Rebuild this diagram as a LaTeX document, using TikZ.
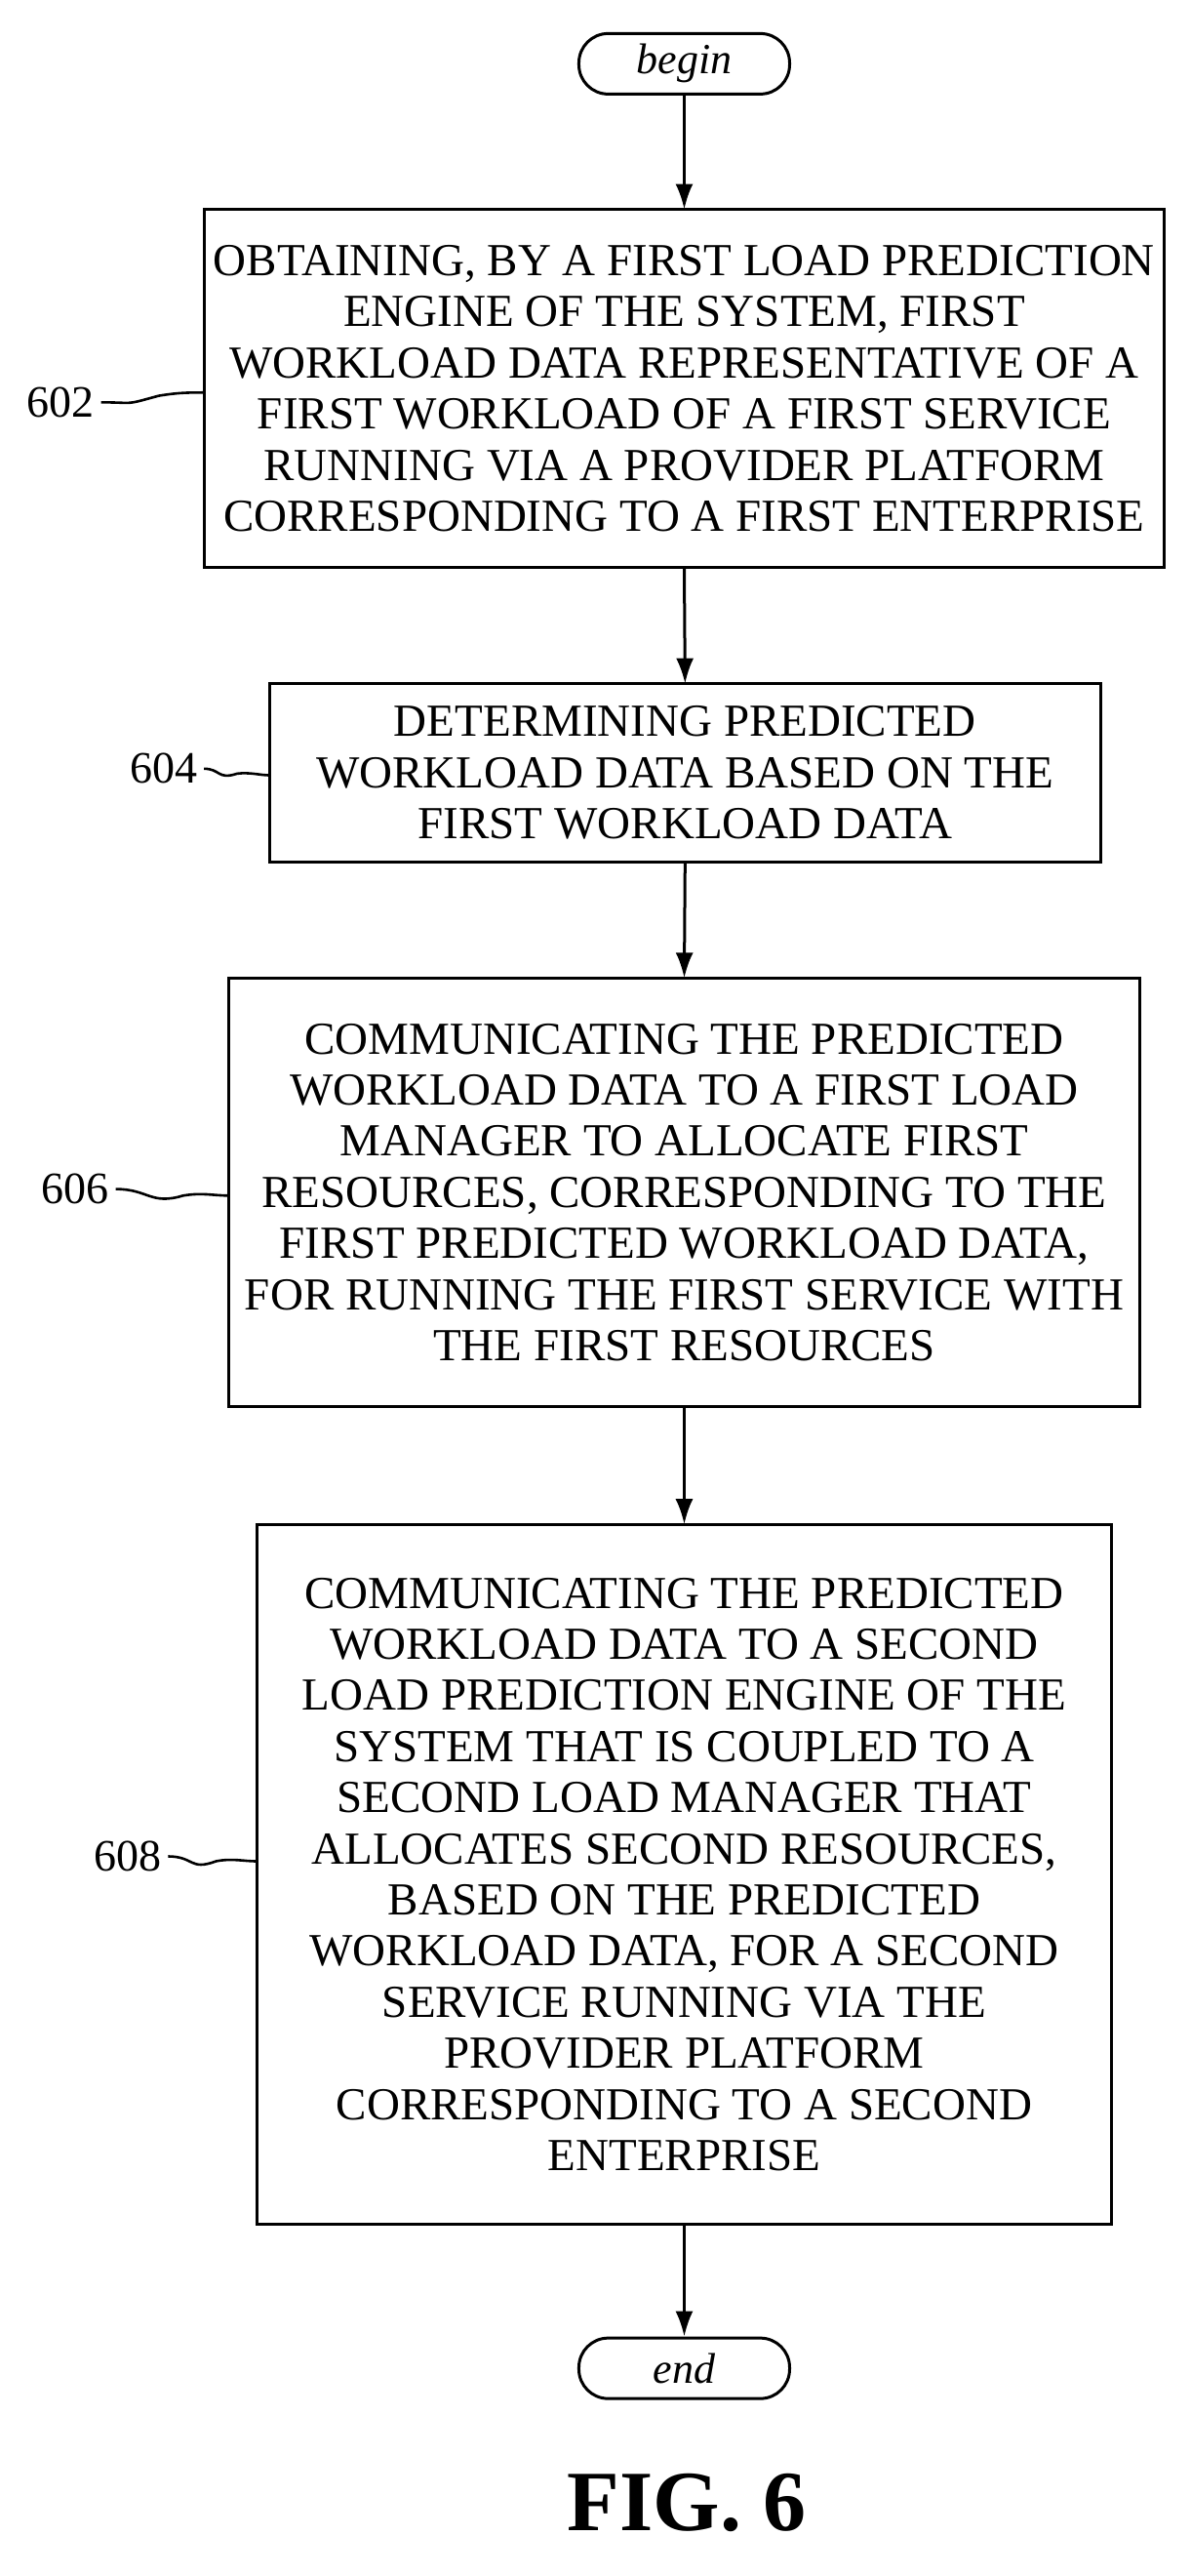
\documentclass[tikz,border=0pt]{standalone}
\usepackage{fontspec}
\setmainfont{Liberation Serif}
\usetikzlibrary{arrows.meta}
\begin{document}
\begin{tikzpicture}[x=0.838pt,y=-0.838pt,
  box/.style={draw,line width=1.5pt,align=center,font=\fontsize{23.5}{26.2}\selectfont,inner sep=0},
  term/.style={draw,line width=1.5pt,rounded corners=15pt,minimum width=108pt,minimum height=31pt,font=\fontsize{22}{24}\selectfont\itshape},
  arr/.style={line width=1.5pt,-{Latex[length=13pt,width=9pt]}},
  lab/.style={font=\fontsize{23}{24}\selectfont},
  sq/.style={line width=1.3pt}]
\useasboundingbox (0,0) rectangle (728,1575);
\node[term] (b) at (418.5,39) {begin};
\draw[box] (125,128) rectangle (712,347);
\node[box,draw=none] (n1) at (418.5,237.5) {OBTAINING, BY A FIRST LOAD PREDICTION\\ENGINE OF THE SYSTEM, FIRST\\WORKLOAD DATA REPRESENTATIVE OF A\\FIRST WORKLOAD OF A FIRST SERVICE\\RUNNING VIA A PROVIDER PLATFORM\\CORRESPONDING TO A FIRST ENTERPRISE};
\coordinate (t1) at (418.5,128); \coordinate (b1) at (418.5,347); \coordinate (l1) at (125,240);
\draw[box] (165,418) rectangle (673,527);
\node[box,draw=none] (n2) at (419,472.5) {DETERMINING PREDICTED\\WORKLOAD DATA BASED ON THE\\FIRST WORKLOAD DATA};
\coordinate (t2) at (419,418); \coordinate (b2) at (419,527); \coordinate (l2) at (165,474);
\draw[box] (140,598) rectangle (697,860);
\node[box,draw=none] (n3) at (418.5,729) {COMMUNICATING THE PREDICTED\\WORKLOAD DATA TO A FIRST LOAD\\MANAGER TO ALLOCATE FIRST\\RESOURCES, CORRESPONDING TO THE\\FIRST PREDICTED WORKLOAD DATA,\\FOR RUNNING THE FIRST SERVICE WITH\\THE FIRST RESOURCES};
\coordinate (t3) at (418.5,598); \coordinate (b3) at (418.5,860); \coordinate (l3) at (140,731);
\draw[box] (157,932) rectangle (680,1360);
\node[box,draw=none] (n4) at (418.5,1146) {COMMUNICATING THE PREDICTED\\WORKLOAD DATA TO A SECOND\\LOAD PREDICTION ENGINE OF THE\\SYSTEM THAT IS COUPLED TO A\\SECOND LOAD MANAGER THAT\\ALLOCATES SECOND RESOURCES,\\BASED ON THE PREDICTED\\WORKLOAD DATA, FOR A SECOND\\SERVICE RUNNING VIA THE\\PROVIDER PLATFORM\\CORRESPONDING TO A SECOND\\ENTERPRISE};
\coordinate (t4) at (418.5,932); \coordinate (b4) at (418.5,1360); \coordinate (l4) at (157,1138);
\node[term] (e) at (418.5,1448) {end};
\draw[arr] (b) -- (t1);
\draw[arr] (b1) -- (t2);
\draw[arr] (b2) -- (t3);
\draw[arr] (b3) -- (t4);
\draw[arr] (b4) -- (e);
\node[lab] (L1) at (37,246) {602};
\node[lab] (L2) at (100,470) {604};
\node[lab] (L3) at (46,727) {606};
\node[lab] (L4) at (78,1135) {608};
\draw[sq] (L1.east) .. controls +(22,0) and +(-22,6) .. (97,242) .. controls +(12,-2) and +(-10,0) .. (l1);
\draw[sq] (L2.east) .. controls +(10,0) and +(-12,4) .. (145,473) .. controls +(8,-1) and +(-6,0) .. (l2);
\draw[sq] (L3.east) .. controls +(20,0) and +(-20,6) .. (112,731) .. controls +(12,-2) and +(-10,0) .. (l3);
\draw[sq] (L4.east) .. controls +(16,0) and +(-16,6) .. (132,1138) .. controls +(10,-2) and +(-8,0) .. (l4);
\node[font=\fontsize{44}{48}\selectfont\bfseries] (fig) at (420,1530) {FIG. 6};
\end{tikzpicture}
\end{document}
